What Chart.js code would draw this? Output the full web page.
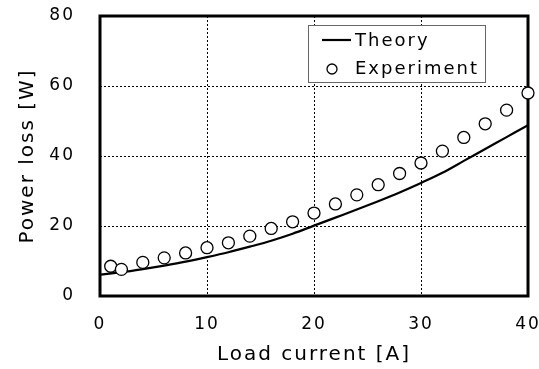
<!DOCTYPE html>
<html>
<head>
<meta charset="utf-8">
<script src="https://cdn.jsdelivr.net/npm/chart.js@4.4.0/dist/chart.umd.min.js"></script>
<style>
html, body { margin: 0; padding: 0; background: #fff; }
</style>
</head>
<body>
<canvas id="lossChart" width="539" height="369"></canvas>
<script>
// data
var theoryCurrent = [0, 2, 4, 6, 8, 10, 12, 14, 16, 18, 20, 22, 24, 26, 28, 30, 32, 34, 36, 38, 40];
var theoryLoss = [6.1, 6.8, 7.7, 8.7, 9.8, 11.1, 12.5, 14.1, 15.8, 17.8, 20.1, 22.4, 24.7, 27.1, 29.6, 32.3, 35.2, 38.6, 42.0, 45.4, 48.8];
var expCurrent = [1, 2, 4, 6, 8, 10, 12, 14, 16, 18, 20, 22, 24, 26, 28, 30, 32, 34, 36, 38, 40];
var expLoss = [8.5, 7.6, 9.6, 10.9, 12.3, 13.8, 15.2, 17.1, 19.3, 21.2, 23.7, 26.3, 28.9, 31.8, 35.0, 38.0, 41.4, 45.3, 49.2, 53.1, 58.0];
var xTicks = [0, 10, 20, 30, 40];
var yTicks = [0, 20, 40, 60, 80];
var legendLabels = ['Theory', 'Experiment'];

function toPoints(xs, ys) {
    return xs.map(function (x, i) { return { x: x, y: ys[i] }; });
}

var FONT = "'DejaVu Sans', Verdana, sans-serif";

// wide letter spacing like the original figure
var spacing = {
    id: 'spacing',
    beforeLayout: function (chart) { chart.ctx.letterSpacing = '2px'; },
    beforeDraw: function (chart) { chart.ctx.letterSpacing = '2px'; }
};

// thick frame round the plot area
var frame = {
    id: 'frame',
    beforeDatasetsDraw: function (chart) {
        var a = chart.chartArea, ctx = chart.ctx;
        ctx.save();
        ctx.strokeStyle = '#000';
        ctx.lineWidth = 3;
        ctx.strokeRect(a.left, a.top, a.right - a.left, a.bottom - a.top);
        ctx.restore();
    }
};

// legend box inside the plot
var boxLegend = {
    id: 'boxLegend',
    afterDraw: function (chart) {
        var ctx = chart.ctx;
        ctx.save();
        ctx.fillStyle = '#fff';
        ctx.fillRect(308, 25, 178, 58);
        ctx.strokeStyle = '#666';
        ctx.lineWidth = 1;
        ctx.strokeRect(308.5, 25.5, 177, 57);
        ctx.strokeStyle = '#000';
        ctx.lineWidth = 2.2;
        ctx.beginPath();
        ctx.moveTo(322, 40);
        ctx.lineTo(351, 40);
        ctx.stroke();
        ctx.lineWidth = 1.3;
        ctx.beginPath();
        ctx.arc(332, 69, 5, 0, Math.PI * 2);
        ctx.stroke();
        ctx.letterSpacing = '2px';
        ctx.fillStyle = '#000';
        ctx.font = '18px ' + FONT;
        ctx.textBaseline = 'middle';
        ctx.fillText(legendLabels[0], 355, 41);
        ctx.fillText(legendLabels[1], 355, 69);
        ctx.restore();
    }
};

var ctx = document.getElementById('lossChart').getContext('2d');
var lossChart = new Chart(ctx, {
    type: 'scatter',
    data: {
        datasets: [{
            label: legendLabels[0],
            data: toPoints(theoryCurrent, theoryLoss),
            showLine: true,
            borderColor: '#000',
            borderWidth: 2.2,
            pointRadius: 0,
            cubicInterpolationMode: 'monotone',
            order: 2
        }, {
            label: legendLabels[1],
            data: toPoints(expCurrent, expLoss),
            showLine: false,
            pointRadius: 6,
            pointBorderWidth: 1.3,
            pointBorderColor: '#000',
            pointBackgroundColor: '#fff',
            clip: false,
            order: 1
        }]
    },
    options: {
        responsive: false,
        animation: false,
        layout: { padding: { top: 16, right: 11, bottom: 0, left: 0 } },
        plugins: {
            legend: { display: false },
            tooltip: { enabled: false }
        },
        scales: {
            x: {
                type: 'linear',
                min: 0,
                max: 40,
                afterBuildTicks: function (s) { s.ticks = xTicks.map(function (v) { return { value: v }; }); },
                afterFit: function (s) { s.height = 73; s.paddingLeft = 0; s.paddingRight = 0; },
                border: { display: false, dash: [2, 2] },
                grid: { color: '#000', lineWidth: 1, drawTicks: false },
                ticks: { color: '#000', padding: 18, maxRotation: 0, font: { family: FONT, size: 17 } },
                title: {
                    display: true,
                    text: 'Load current [A]',
                    color: '#000',
                    padding: { top: 0, bottom: 2 },
                    font: { family: FONT, size: 20 }
                }
            },
            y: {
                type: 'linear',
                min: 0,
                max: 80,
                afterBuildTicks: function (s) { s.ticks = yTicks.map(function (v) { return { value: v }; }); },
                afterFit: function (s) { s.width = 100; s.paddingTop = 0; s.paddingBottom = 0; },
                border: { display: false, dash: [2, 2] },
                grid: { color: '#000', lineWidth: 1, drawTicks: false },
                ticks: { color: '#000', padding: 25, font: { family: FONT, size: 17 } },
                title: {
                    display: true,
                    text: 'Power loss [W]',
                    color: '#000',
                    padding: { top: 16, bottom: 0 },
                    font: { family: FONT, size: 20 }
                }
            }
        }
    },
    plugins: [spacing, frame, boxLegend]
});
</script>
</body>
</html>
